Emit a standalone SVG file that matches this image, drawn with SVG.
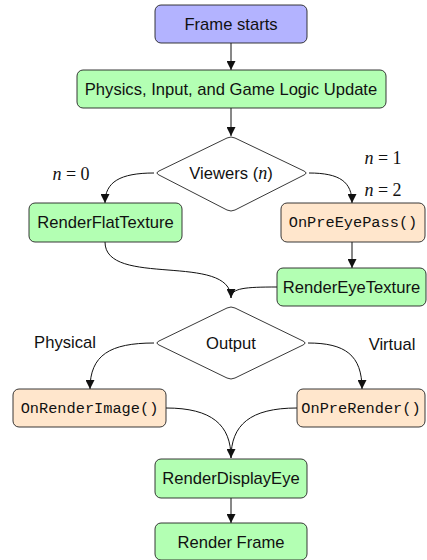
<svg xmlns="http://www.w3.org/2000/svg" width="427" height="560" viewBox="0 0 427 560">
<style>
.box{stroke:#222;stroke-width:0.9}
.blue{fill:#b3b3ff}
.green{fill:#b3ffb3}
.orange{fill:#ffe6cc}
.dia{fill:#fff;stroke:#222;stroke-width:0.9;stroke-linejoin:round}
.t{font-family:"Liberation Sans","DejaVu Sans",sans-serif;font-size:16.6px;fill:#111;text-anchor:middle}
.m{font-family:"Liberation Mono","DejaVu Sans Mono",monospace;font-size:15.3px;fill:#111;text-anchor:middle}
.math{font-family:"Liberation Serif","DejaVu Serif",serif;font-size:18px;fill:#111}
.it{font-style:italic}
.c{fill:none;stroke:#111;stroke-width:1}
</style>
<defs>
<marker id="ah" viewBox="0 0 10 10" refX="10" refY="5" markerWidth="9" markerHeight="9" markerUnits="userSpaceOnUse" orient="auto">
<path d="M0,0 L10,5 L0,10 z" fill="#111"/>
</marker>
</defs>

<g id="connectors">
<path class="c" d="M231,43 L231,70" marker-end="url(#ah)"/>
<path class="c" d="M231,108 L231,136" marker-end="url(#ah)"/>
<path class="c" d="M154,173 C120,173 105,182 105,203" marker-end="url(#ah)"/>
<path class="c" d="M309,173 C340,173 352,182 352,203" marker-end="url(#ah)"/>
<path class="c" d="M352,242 L352,268" marker-end="url(#ah)"/>
<path class="c" d="M105,242 C105,288 231,252 231,298" marker-end="url(#ah)"/>
<path class="c" d="M277,287 C245,287 231,288 231,298"/>
<path class="c" d="M154,343 C110,343 90,355 90,389" marker-end="url(#ah)"/>
<path class="c" d="M308,343 C345,343 362,355 362,389" marker-end="url(#ah)"/>
<path class="c" d="M166,408 C212,408 231,425 231,458" marker-end="url(#ah)"/>
<path class="c" d="M297,408 C250,408 231,425 231,458"/>
<path class="c" d="M231,498 L231,523" marker-end="url(#ah)"/>
</g>

<g id="frame_starts">
<rect class="box blue" x="155" y="5" width="152" height="38" rx="6"/>
<text class="t" x="231" y="30">Frame starts</text>
</g>
<g id="physics">
<rect class="box green" x="77" y="70" width="309" height="38" rx="6"/>
<text class="t" x="231" y="95">Physics, Input, and Game Logic Update</text>
</g>
<g id="viewers">
<path class="dia" d="M227,138 Q231,136 235,138 L304,171 Q308,173 304,175 L235,210 Q231,212 227,210 L159,175 Q155,173 159,171 Z"/>
<text class="t" x="231" y="179"><tspan>Viewers (</tspan><tspan class="math it">n</tspan><tspan>)</tspan></text>
</g>
<g id="render_flat">
<rect class="box green" x="29" y="203" width="153" height="39" rx="6"/>
<text class="t" x="105.5" y="228">RenderFlatTexture</text>
</g>
<g id="on_pre_eye_pass">
<rect class="box orange" x="281" y="203" width="144" height="39" rx="6"/>
<text class="m" x="353" y="227">OnPreEyePass()</text>
</g>
<g id="render_eye">
<rect class="box green" x="277" y="268" width="149" height="38" rx="6"/>
<text class="t" x="351.5" y="293">RenderEyeTexture</text>
</g>
<g id="output">
<path class="dia" d="M227,308 Q231,306 235,308 L303,341 Q307,343 303,345 L235,378 Q231,380 227,378 L159,345 Q155,343 159,341 Z"/>
<text class="t" x="231" y="349">Output</text>
</g>
<g id="on_render_image">
<rect class="box orange" x="13" y="389" width="153" height="38" rx="6"/>
<text class="m" x="89.5" y="413">OnRenderImage()</text>
</g>
<g id="on_pre_render">
<rect class="box orange" x="297" y="389" width="128" height="38" rx="6"/>
<text class="m" x="361" y="413">OnPreRender()</text>
</g>
<g id="render_display_eye">
<rect class="box green" x="155" y="459" width="152" height="39" rx="6"/>
<text class="t" x="231" y="484">RenderDisplayEye</text>
</g>
<g id="render_frame">
<rect class="box green" x="155" y="523" width="152" height="37" rx="6"/>
<text class="t" x="231" y="548">Render Frame</text>
</g>

<g id="labels">
<text class="math" x="71" y="180" text-anchor="middle"><tspan class="it">n</tspan> = 0</text>
<text class="math" x="383" y="164" text-anchor="middle"><tspan class="it">n</tspan> = 1</text>
<text class="math" x="383" y="196" text-anchor="middle"><tspan class="it">n</tspan> = 2</text>
<text class="t" x="65" y="348">Physical</text>
<text class="t" x="392" y="350">Virtual</text>
</g>
</svg>
